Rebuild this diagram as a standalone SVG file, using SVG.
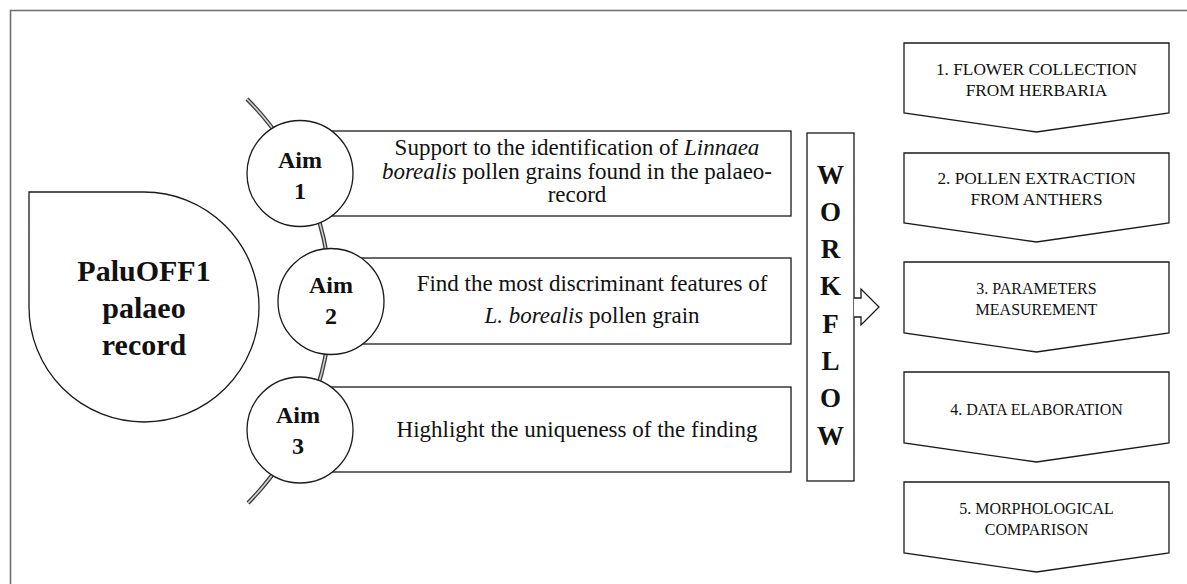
<svg xmlns="http://www.w3.org/2000/svg" width="1187" height="584" viewBox="0 0 1187 584">
<style>
.sh{fill:#fff;stroke:#1a1a1a;stroke-width:1.3}
.t{font-family:"Liberation Serif","Times New Roman",serif;fill:#111}
.b{font-weight:bold}
.aim{font-size:23px;text-anchor:middle}
.wf{font-size:16px;text-anchor:middle}
.wfl{font-size:17.3px}
.ac{font-size:24px;font-weight:bold;text-anchor:middle}
.wl{font-size:27px;font-weight:bold;text-anchor:middle}
</style>
<rect x="0" y="0" width="1187" height="584" fill="#fff"/>
<path d="M10.5,584 V10.5 H1187" fill="none" stroke="#6e6e6e" stroke-width="1.6"/>

<g id="connectors">
  <path d="M247,99 A287,287 0 0 1 248,503" fill="none" stroke="#3a3a3a" stroke-width="4.2"/>
  <path d="M247,99 A287,287 0 0 1 248,503" fill="none" stroke="#d0d0d0" stroke-width="1.6"/>
</g>

<g id="palaeo-record">
  <path class="sh" d="M29,192 H144 A115,115 0 1 1 29,307 Z"/>
  <text class="t b" x="144" y="281" font-size="30" text-anchor="middle">PaluOFF1</text>
  <text class="t b" x="144" y="318" font-size="30" text-anchor="middle">palaeo</text>
  <text class="t b" x="144" y="355" font-size="30" text-anchor="middle">record</text>
</g>

<g id="aim1">
  <rect class="sh" x="300" y="131" width="491" height="85"/>
  <circle class="sh" cx="300" cy="173.5" r="53"/>
  <text class="t ac" x="300" y="168">Aim</text>
  <text class="t ac" x="300" y="199">1</text>
  <text class="t aim" x="577" y="155">Support to the identification of <tspan font-style="italic">Linnaea</tspan></text>
  <text class="t aim" x="577" y="179"><tspan font-style="italic">borealis</tspan> pollen grains found in the palaeo-</text>
  <text class="t aim" x="577" y="202">record</text>
</g>

<g id="aim2">
  <rect class="sh" x="331" y="258" width="460" height="86"/>
  <circle class="sh" cx="331" cy="301.5" r="53"/>
  <text class="t ac" x="331" y="293">Aim</text>
  <text class="t ac" x="331" y="324">2</text>
  <text class="t aim" x="592" y="291">Find the most discriminant features of</text>
  <text class="t aim" x="592" y="323"><tspan font-style="italic">L. borealis</tspan> pollen grain</text>
</g>

<g id="aim3">
  <rect class="sh" x="300" y="387" width="491" height="85"/>
  <circle class="sh" cx="300" cy="430" r="53"/>
  <text class="t ac" x="298" y="423">Aim</text>
  <text class="t ac" x="298" y="454">3</text>
  <text class="t aim" x="577" y="437">Highlight the uniqueness of the finding</text>
</g>

<g id="workflow">
  <rect class="sh" x="807" y="133" width="47" height="348"/>
  <path class="sh" d="M854,298 H861 V289 L879,307 L861,325 V317 H854"/>
  <text class="t wl" x="830.5" y="183.5">W</text>
  <text class="t wl" x="830.5" y="220.8">O</text>
  <text class="t wl" x="830.5" y="258.1">R</text>
  <text class="t wl" x="830.5" y="295.4">K</text>
  <text class="t wl" x="830.5" y="332.7">F</text>
  <text class="t wl" x="830.5" y="370">L</text>
  <text class="t wl" x="830.5" y="407.3">O</text>
  <text class="t wl" x="830.5" y="444.6">W</text>
</g>

<g id="step1">
  <path class="sh" d="M904,43 H1169 V113 L1036.5,132 L904,113 Z"/>
  <text class="t wf wfl" x="1036.5" y="75">1. FLOWER COLLECTION</text>
  <text class="t wf wfl" x="1036.5" y="96">FROM HERBARIA</text>
</g>
<g id="step2">
  <path class="sh" d="M904,153 H1169 V223 L1036.5,242 L904,223 Z"/>
  <text class="t wf wfl" x="1036.5" y="184">2. POLLEN EXTRACTION</text>
  <text class="t wf wfl" x="1036.5" y="205">FROM ANTHERS</text>
</g>
<g id="step3">
  <path class="sh" d="M904,262 H1169 V333 L1036.5,352 L904,333 Z"/>
  <text class="t wf" x="1036.5" y="294">3. PARAMETERS</text>
  <text class="t wf" x="1036.5" y="315">MEASUREMENT</text>
</g>
<g id="step4">
  <path class="sh" d="M904,372 H1169 V443 L1036.5,462 L904,443 Z"/>
  <text class="t wf" x="1036.5" y="415">4. DATA ELABORATION</text>
</g>
<g id="step5">
  <path class="sh" d="M904,482 H1169 V553 L1036.5,572 L904,553 Z"/>
  <text class="t wf" x="1036.5" y="514">5. MORPHOLOGICAL</text>
  <text class="t wf" x="1036.5" y="535">COMPARISON</text>
</g>
</svg>
